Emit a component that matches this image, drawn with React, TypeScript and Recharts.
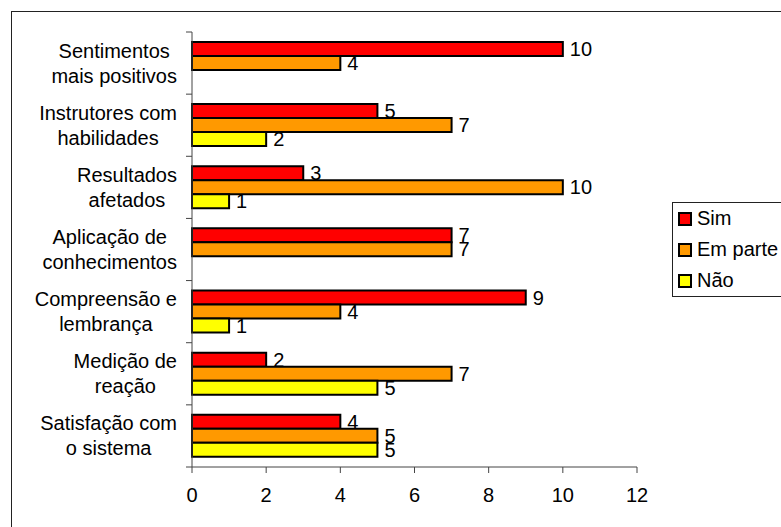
import React from "react";
import { BarChart, Bar, XAxis, YAxis, LabelList } from "recharts";

const categories = [
  "Sentimentos \nmais positivos",
  "Instrutores com\nhabilidades",
  "Resultados\nafetados",
  "Aplicação de\nconhecimentos",
  "Compreensão e\nlembrança",
  "Medição de\nreação",
  "Satisfação com\no sistema",
];
const sim = [10, 5, 3, 7, 9, 2, 4];
const emParte = [4, 7, 10, 7, 4, 7, 5];
const nao = [null, 2, 1, null, 1, 5, 5];
const xTicks = [0, 2, 4, 6, 8, 10, 12];

const series = [
  { key: "sim", name: "Sim", color: "#FF0000" },
  { key: "emParte", name: "Em parte", color: "#FF9900" },
  { key: "nao", name: "Não", color: "#FFFF00" },
];

const data = categories.map((name, i) => ({
  name,
  sim: sim[i],
  emParte: emParte[i],
  nao: nao[i],
}));

const FONT = '"Liberation Sans", Arial, sans-serif';
const W = 781;
const H = 527;
const M = { top: 32, right: 144, bottom: 0, left: 0 };
const Y_W = 192;
const X_H = 60;
const PLOT_H = H - M.top - M.bottom - X_H;
const AXIS_X = M.left + Y_W;
const AXIS_COLOR = "#444";

let ctx: CanvasRenderingContext2D | null = null;
function textWidth(s: string) {
  if (!ctx) {
    ctx = document.createElement("canvas").getContext("2d");
    if (ctx) ctx.font = `20px ${FONT}`;
  }
  return ctx ? ctx.measureText(s).width : s.length * 10;
}

function CategoryTick(props: any) {
  const { y, payload, index } = props;
  const lines = String(payload.value).split("\n");
  const band = PLOT_H / categories.length;
  const block = Math.max(...lines.map((l) => textWidth(l.trimEnd())));
  const cx = AXIS_X - 15 - block / 2;
  return (
    <g>
      <line x1={AXIS_X - 6} x2={AXIS_X} y1={y - band / 2} y2={y - band / 2} stroke={AXIS_COLOR} />
      {index === categories.length - 1 && (
        <line x1={AXIS_X - 6} x2={AXIS_X} y1={y + band / 2} y2={y + band / 2} stroke={AXIS_COLOR} />
      )}
      {lines.map((l, i) => (
        <text
          key={i}
          x={cx}
          y={y - 5.5 + i * 25}
          textAnchor="middle"
          fontSize={20}
          fontFamily={FONT}
          fill="#000"
        >
          {l.trimEnd()}
        </text>
      ))}
    </g>
  );
}

function LegendBox() {
  return (
    <div
      style={{
        position: "absolute",
        left: 672,
        top: 202,
        border: "1px solid #222",
        width: 130,
        height: 95,
        background: "#fff",
        fontFamily: FONT,
        fontSize: 20,
        color: "#000",
        boxSizing: "border-box",
      }}
    >
      {series.map((s) => (
        <div key={s.key} style={{ height: 31, display: "flex", alignItems: "center", paddingLeft: 5 }}>
          <span
            style={{
              display: "inline-block",
              width: 10,
              height: 10,
              background: s.color,
              border: "2px solid #000",
              marginRight: 5,
            }}
          />
          <span>{s.name}</span>
        </div>
      ))}
    </div>
  );
}

export default function App() {
  return (
    <div
      style={{
        position: "absolute",
        left: 0,
        top: 0,
        width: W,
        height: H,
        overflow: "hidden",
        background: "#fff",
      }}
    >
      <div
        style={{
          position: "absolute",
          left: 11,
          top: 11,
          width: 820,
          height: 560,
          border: "1px solid #222",
        }}
      />
      <div style={{ position: "absolute", left: 0, top: 0 }}>
        <BarChart
          width={W}
          height={H}
          data={data}
          layout="vertical"
          margin={M}
          barCategoryGap="16%"
          barGap={0}
        >
          <XAxis
            type="number"
            domain={[0, 12]}
            ticks={xTicks}
            height={X_H}
            tickSize={6}
            tickMargin={15}
            stroke={AXIS_COLOR}
            tick={{ fill: "#000", fontSize: 20, fontFamily: FONT }}
            interval={0}
          />
          <YAxis
            type="category"
            dataKey="name"
            width={Y_W}
            stroke={AXIS_COLOR}
            tickLine={false}
            tick={<CategoryTick />}
            interval={0}
          />
          {series.map((s) => (
            <Bar
              key={s.key}
              dataKey={s.key}
              name={s.name}
              fill={s.color}
              stroke="#000"
              strokeWidth={2}
              isAnimationActive={false}
            >
              <LabelList
                dataKey={s.key}
                position="right"
                offset={7}
                fill="#000"
                fontSize={20}
                fontFamily={FONT}
              />
            </Bar>
          ))}
        </BarChart>
      </div>
      <LegendBox />
    </div>
  );
}
